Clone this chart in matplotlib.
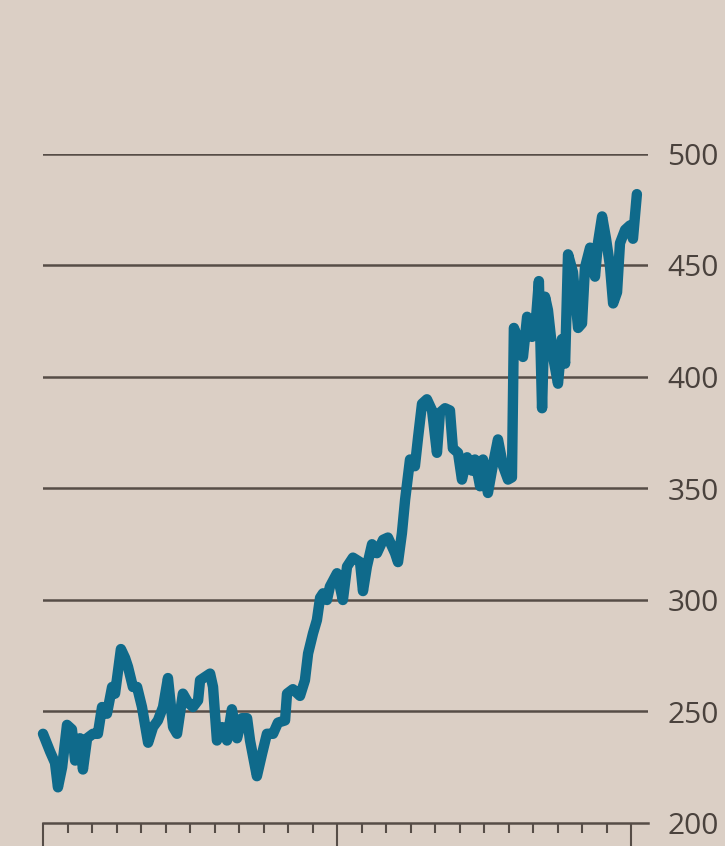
import matplotlib.pyplot as plt
from matplotlib.ticker import MultipleLocator

# Posição horizontal em meses (0 = início do 1º ano) e preço correspondente
meses = [0.00, 0.29, 0.49, 0.61, 0.78, 0.98, 1.18, 1.31, 1.51, 1.63, 1.80, 2.04,
         2.24, 2.41, 2.61, 2.82, 2.94, 3.18, 3.35, 3.47, 3.67, 3.84, 4.04, 4.29,
         4.49, 4.69, 4.90, 5.10, 5.31, 5.47, 5.71, 5.92, 6.12, 6.33, 6.41, 6.82,
         6.94, 7.10, 7.31, 7.51, 7.71, 7.92, 8.12, 8.33, 8.45, 8.73, 8.94, 9.14,
         9.39, 9.59, 9.88, 9.96, 10.20, 10.49, 10.69, 10.82, 11.02, 11.18, 11.31,
         11.43, 11.59, 11.71, 12.00, 12.24, 12.41, 12.65, 12.94, 13.06, 13.22,
         13.43, 13.63, 13.88, 14.08, 14.37, 14.49, 14.65, 14.78, 14.98, 15.18,
         15.31, 15.47, 15.67, 15.88, 16.08, 16.20, 16.41, 16.61, 16.73, 16.94,
         17.10, 17.31, 17.51, 17.63, 17.84, 17.96, 18.16, 18.37, 18.57, 18.78,
         18.98, 19.14, 19.22, 19.39, 19.59, 19.76, 19.96, 20.08, 20.24, 20.37,
         20.49, 20.61, 20.82, 21.02, 21.18, 21.31, 21.43, 21.63, 21.84, 22.00,
         22.12, 22.33, 22.53, 22.65, 22.82, 22.98, 23.14, 23.27, 23.43, 23.55,
         23.76, 23.96, 24.08, 24.24]
precos = [240, 232, 227, 216, 225, 244, 242, 228, 238, 224, 238, 240,
          240, 252, 249, 261, 258, 278, 274, 270, 261, 261, 252, 236,
          243, 246, 252, 265, 243, 240, 258, 254, 252, 255, 264, 267,
          261, 237, 243, 237, 251, 238, 247, 247, 237, 221, 231, 240,
          240, 245, 246, 258, 260, 257, 264, 276, 285, 291, 301,
          303, 300, 306, 312, 300, 315, 319, 317, 304, 315,
          325, 321, 327, 328, 321, 317, 330, 345, 363, 360,
          373, 388, 390, 385, 366, 384, 386, 385, 368, 366,
          354, 364, 358, 363, 351, 363, 348, 361, 372, 360,
          354, 355, 422, 417, 409, 427, 418, 420, 443, 386,
          436, 430, 409, 397, 417, 406, 455, 447, 422, 424,
          449, 458, 445, 460, 472, 462, 450, 433, 438, 460,
          466, 468, 462, 482]

niveis = [200, 250, 300, 350, 400, 450, 500]

fundo = "#dbcfc5"
cor_grade = "#564d47"
cor_linha = "#0f6a8b"
cor_texto = "#4a423d"

fig = plt.figure(figsize=(7.25, 8.46), dpi=100, facecolor=fundo)
ax = fig.add_axes([43 / 725, 23 / 846, 605 / 725, 669 / 846], facecolor=fundo)

# Linhas horizontais de referência
for v in niveis[1:]:
    ax.axhline(v, color=cor_grade, lw=1.8, zorder=1)

ax.plot(meses, precos, color=cor_linha, lw=7.5, solid_capstyle="round",
        solid_joinstyle="round", clip_on=False, zorder=3)

ax.set_xlim(0, 605 / 24.5)
ax.set_ylim(200, 500)

# Eixo y com rótulos à direita
ax.yaxis.tick_right()
ax.set_yticks(niveis)
ax.set_yticklabels([str(v) for v in niveis], family="Open Sans", fontsize=21.5,
                   color=cor_texto)
ax.tick_params(axis="y", length=0, pad=14)

# Eixo x: anos (maiores) e meses (menores)
ax.xaxis.set_major_locator(MultipleLocator(12))
ax.xaxis.set_minor_locator(MultipleLocator(1))
ax.tick_params(axis="x", which="major", length=17, width=1.5, color=cor_grade,
               labelbottom=False)
ax.tick_params(axis="x", which="minor", length=7, width=1.5, color=cor_grade)

for lado in ["top", "left", "right"]:
    ax.spines[lado].set_visible(False)
ax.spines["bottom"].set_color(cor_grade)
ax.spines["bottom"].set_linewidth(1.8)

fig.savefig("out.png", dpi=100, facecolor=fundo)
